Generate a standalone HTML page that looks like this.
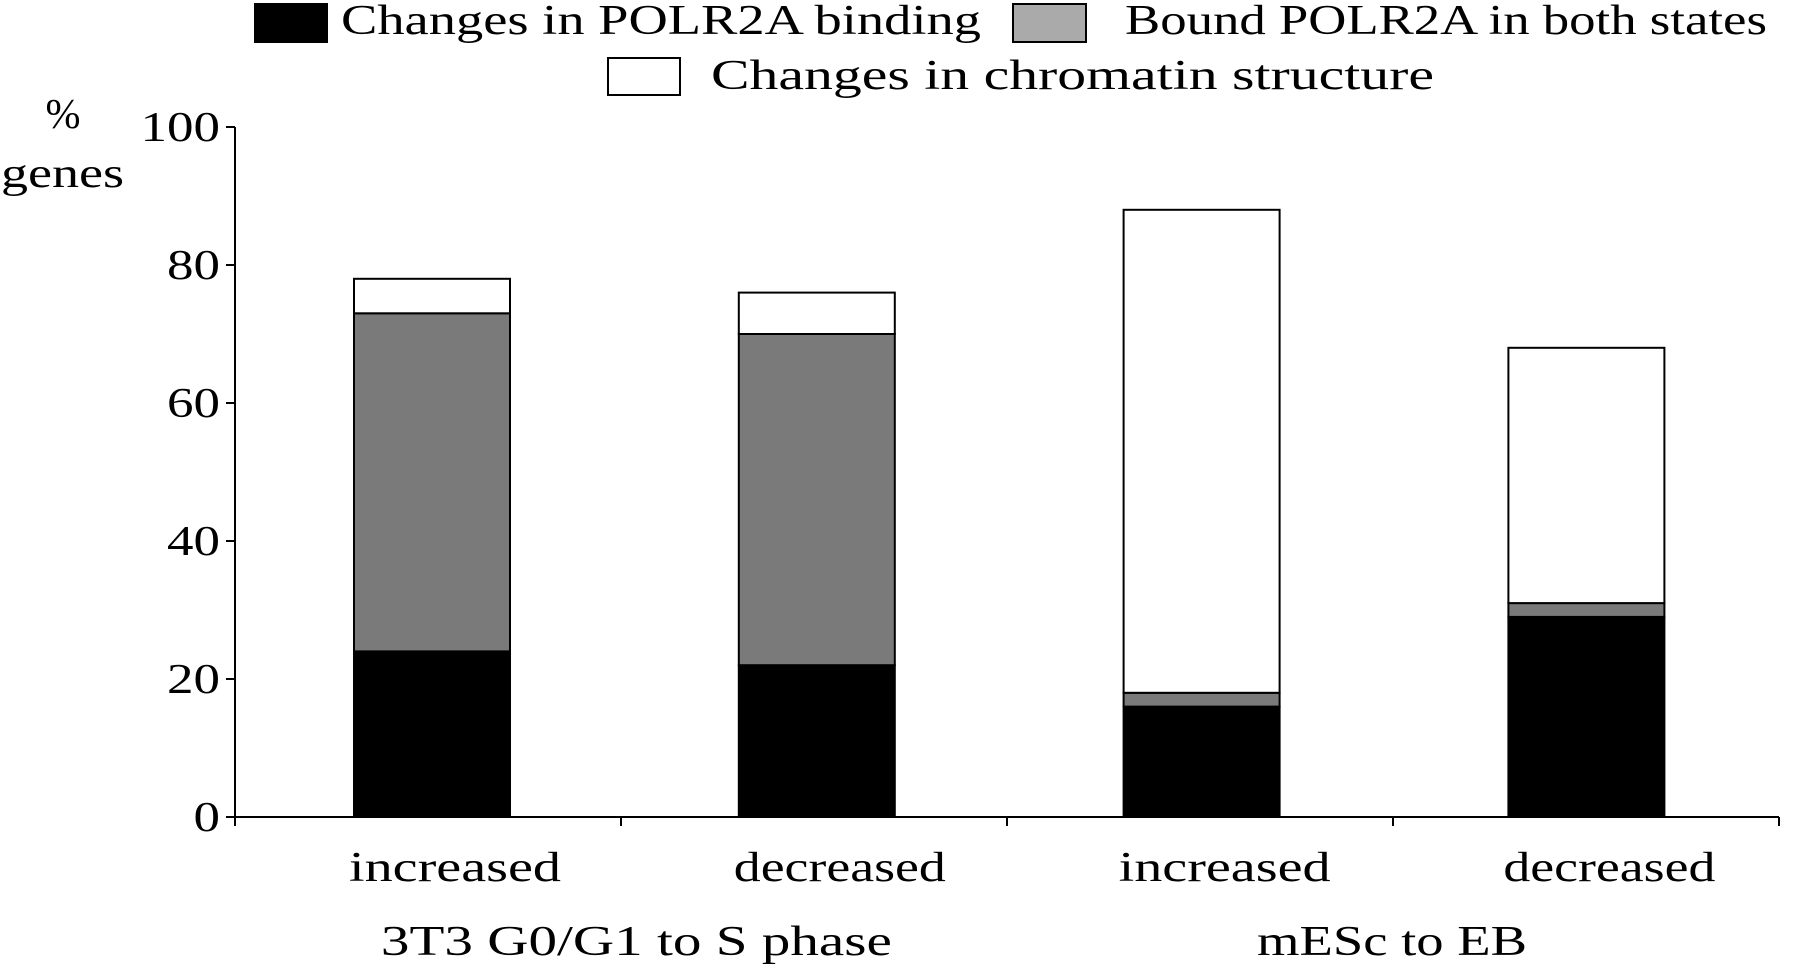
<!DOCTYPE html>
<html><head><meta charset="utf-8"><style>
html,body{margin:0;padding:0;background:#fff;}
svg{display:block;font-family:"Liberation Serif",serif;}
</style></head><body>
<svg id="chart" width="1800" height="970" viewBox="0 0 1800 970">
<g>
<rect x="255" y="4" width="72" height="38" fill="#000" stroke="#000" stroke-width="2"/>
<text x="341" y="34" font-size="42" textLength="640" lengthAdjust="spacingAndGlyphs">Changes in POLR2A binding</text>
<rect x="1013" y="4" width="73" height="38" fill="#aaa" stroke="#000" stroke-width="2"/>
<text x="1125" y="34" font-size="42" textLength="642" lengthAdjust="spacingAndGlyphs">Bound POLR2A in both states</text>
<rect x="608" y="58" width="72" height="37" fill="#fff" stroke="#000" stroke-width="2"/>
<text x="711" y="89" font-size="42" textLength="723" lengthAdjust="spacingAndGlyphs">Changes in chromatin structure</text>
</g>
<text x="63" y="128" font-size="42" text-anchor="middle">%</text>
<text x="1" y="187" font-size="42" textLength="123" lengthAdjust="spacingAndGlyphs">genes</text>
<g id="plot"></g>
</svg>
<script>
const categories = ["increased","decreased","increased","decreased"];
const groups = ["3T3 G0/G1 to S phase","mESc to EB"];
const polr2aChanges = [24,22,16,29];
const boundBoth = [49,48,2,2];
const chromatin = [5,6,70,37];
const yTicks = [0,20,40,60,80,100];

const X0=235, X1=1779, Y0=817, Y100=127;
const band=(X1-X0)/categories.length, barW=156;
function y(v){return Y0-(v/100)*(Y0-Y100);}
function xc(i){return X0+band*(i+0.5)+4-i*1.2;}
const NS="http://www.w3.org/2000/svg";
const plot=document.getElementById('plot');
function mk(tag,attrs,txt){const e=document.createElementNS(NS,tag);for(const k in attrs)e.setAttribute(k,attrs[k]);if(txt!==undefined)e.textContent=txt;plot.appendChild(e);return e;}

let ax=mk('line',{x1:X0,y1:Y100,x2:X0,y2:Y0,stroke:'#000','stroke-width':2});


let bx=mk('line',{x1:X0,y1:Y0,x2:X1,y2:Y0,stroke:'#000','stroke-width':2});


yTicks.forEach(t=>{
  let l=mk('line',{x1:X0-9,y1:y(t),x2:X0,y2:y(t),stroke:'#000','stroke-width':2});
  
  
  const s=String(t);
  let tx=mk('text',{x:220,y:y(t)+14,'font-size':42,'text-anchor':'end',textLength:s.length*26.5,lengthAdjust:'spacingAndGlyphs'},s);
  
  
});
for(let i=0;i<=categories.length;i++){
  let l=mk('line',{x1:X0+band*i,y1:Y0,x2:X0+band*i,y2:Y0+9,stroke:'#000','stroke-width':2});
  
  
}
const series=[[polr2aChanges,'#000','bar-polr2a-changes'],[boundBoth,'#7a7a7a','bar-bound-both'],[chromatin,'#fff','bar-chromatin']];
categories.forEach((c,i)=>{
  let base=0;
  series.forEach(([arr,fill,name])=>{
    const v=arr[i];
    let r=mk('rect',{x:xc(i)-barW/2,y:y(base+v),width:barW,height:y(base)-y(base+v),fill:fill,stroke:'#000','stroke-width':2});
    
    
    base+=v;
  });
  let t=mk('text',{x:xc(i)+23,y:881,'font-size':42,'text-anchor':'middle',textLength:212,lengthAdjust:'spacingAndGlyphs'},c);
  
  
});
const groupW=[511,270];
const groupShift=[12,-2];
groups.forEach((g,j)=>{
  const cx=(xc(2*j)+xc(2*j+1))/2+groupShift[j];
  let t=mk('text',{x:cx,y:955,'font-size':42,'text-anchor':'middle',textLength:groupW[j],lengthAdjust:'spacingAndGlyphs'},g);
  
  
});
</script>
</body></html>
